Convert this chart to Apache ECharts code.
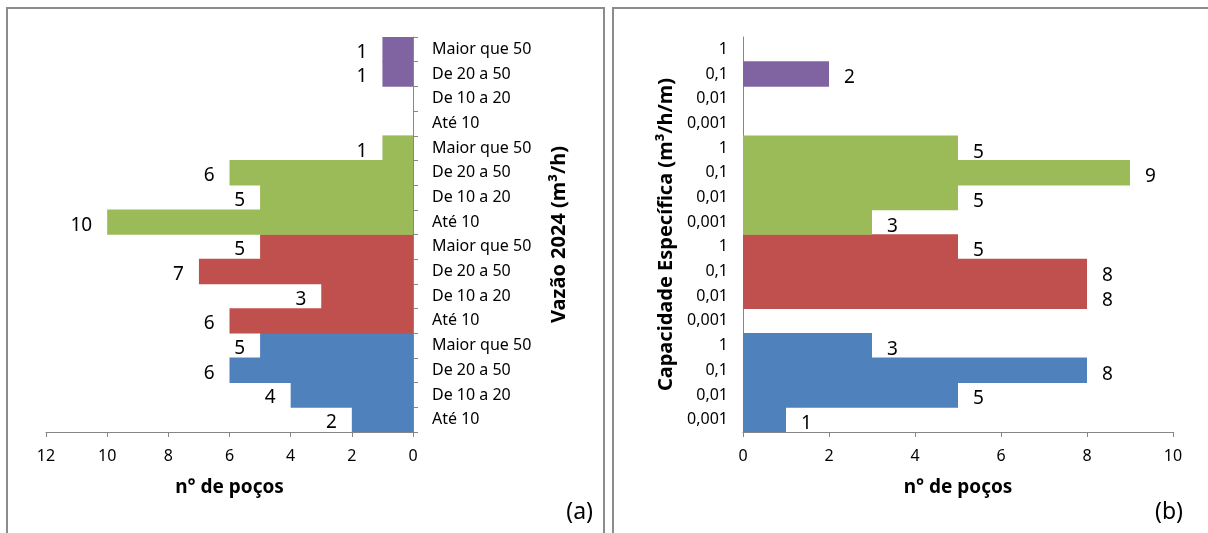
<!DOCTYPE html>
<html>
<head>
<meta charset="utf-8">
<script src="https://cdn.jsdelivr.net/npm/echarts@6/dist/echarts.min.js"></script>
<style>
html,body{margin:0;padding:0;background:#fff;}
#c{width:1208px;height:533px;}
</style>
</head>
<body>
<div id="c"></div>
<script>
// Panel (a): flow classes
const flowCategories = ['Até 10', 'De 10 a 20', 'De 20 a 50', 'Maior que 50'];
// Panel (b): specific capacity classes
const capCategories = ['0,001', '0,01', '0,1', '1'];
const groupColors = ['#4F81BD', '#C0504D', '#9BBB59', '#8064A2'];
// Values per group (bottom to top), panel (a)
const flowBlue = [2, 4, 6, 5];
const flowRed = [6, 3, 7, 5];
const flowGreen = [10, 5, 6, 1];
const flowPurple = [0, 0, 1, 1];
// Values per group (bottom to top), panel (b)
const capBlue = [1, 5, 8, 3];
const capRed = [0, 8, 8, 5];
const capGreen = [3, 5, 9, 5];
const capPurple = [0, 0, 2, 0];
const xTicksA = [0, 2, 4, 6, 8, 10, 12];
const xTicksB = [0, 2, 4, 6, 8, 10];

const flowGroups = [flowBlue, flowRed, flowGreen, flowPurple];
const capGroups = [capBlue, capRed, capGreen, capPurple];

function repeatCats(cats, n) {
  const out = [];
  for (let g = 0; g < n; g++) out.push(...cats);
  return out;
}
function spread(groups, g) {
  const out = [];
  groups.forEach((vals, i) => vals.forEach(v => out.push(i === g && v ? v : '-')));
  return out;
}
const FONT = 'Noto Sans';
const axisGray = '#868686';

const series = [];
flowGroups.forEach((vals, g) => {
  series.push({
    type: 'bar', xAxisIndex: 0, yAxisIndex: 0, stack: 'a',
    barWidth: '103%',
    itemStyle: { color: groupColors[g] },
    label: {
      show: true, position: 'left', distance: 15, offset: [0, 3],
      fontFamily: FONT, fontSize: 19, color: '#000',
      formatter: p => (p.value ? String(p.value) : '')
    },
    data: spread(flowGroups, g)
  });
});
capGroups.forEach((vals, g) => {
  series.push({
    type: 'bar', xAxisIndex: 1, yAxisIndex: 1, stack: 'b',
    barWidth: '103%',
    itemStyle: { color: groupColors[g] },
    label: {
      show: true, position: 'right', distance: 15, offset: [0, 4],
      fontFamily: FONT, fontSize: 19, color: '#000',
      formatter: p => (p.value ? String(p.value) : '')
    },
    data: spread(capGroups, g)
  });
});

const chart = echarts.init(document.getElementById('c'), null, { renderer: 'canvas' });
chart.setOption({
  animation: false,
  backgroundColor: '#fff',
  textStyle: { fontFamily: FONT },
  grid: [
    { left: 46, top: 37, width: 367, height: 395, containLabel: false },
    { left: 743, top: 37, width: 430, height: 395, containLabel: false }
  ],
  xAxis: [
    {
      gridIndex: 0, type: 'value', inverse: true,
      min: xTicksA[0], max: xTicksA[xTicksA.length - 1], interval: 2,
      splitLine: { show: false },
      axisLine: { show: true, lineStyle: { color: axisGray, width: 1 } },
      axisTick: { show: true, length: 5, lineStyle: { color: axisGray } },
      axisLabel: { fontFamily: FONT, fontSize: 16, color: '#000', margin: 16 },
      name: 'n° de poços', nameLocation: 'middle', nameGap: 46,
      nameTextStyle: { fontFamily: FONT, fontSize: 19, fontWeight: 'bold', color: '#000' }
    },
    {
      gridIndex: 1, type: 'value',
      min: xTicksB[0], max: xTicksB[xTicksB.length - 1], interval: 2,
      splitLine: { show: false },
      axisLine: { show: true, lineStyle: { color: axisGray, width: 1 } },
      axisTick: { show: true, length: 5, lineStyle: { color: axisGray } },
      axisLabel: { fontFamily: FONT, fontSize: 16, color: '#000', margin: 16 },
      name: 'n° de poços', nameLocation: 'middle', nameGap: 46,
      nameTextStyle: { fontFamily: FONT, fontSize: 19, fontWeight: 'bold', color: '#000' }
    }
  ],
  yAxis: [
    {
      gridIndex: 0, type: 'category', position: 'right',
      data: repeatCats(flowCategories, 4),
      axisLine: { show: true, lineStyle: { color: axisGray, width: 1 } },
      axisTick: { show: true, length: 5, lineStyle: { color: axisGray } },
      axisLabel: { fontFamily: FONT, fontSize: 16, color: '#000', margin: 19, align: 'left' },
      name: 'Vazão 2024 (m³/h)', nameLocation: 'middle', nameRotate: 90, nameGap: 136,
      nameTextStyle: { fontFamily: FONT, fontSize: 20, fontWeight: 'bold', color: '#000' }
    },
    {
      gridIndex: 1, type: 'category', position: 'left',
      data: repeatCats(capCategories, 4),
      axisLine: { show: true, lineStyle: { color: axisGray, width: 1 } },
      axisTick: { show: false },
      axisLabel: { fontFamily: FONT, fontSize: 16, color: '#000', margin: 15 },
      name: 'Capacidade Específica (m³/h/m)', nameLocation: 'middle', nameRotate: 90, nameGap: 67,
      nameTextStyle: { fontFamily: FONT, fontSize: 20, fontWeight: 'bold', color: '#000' }
    }
  ],
  graphic: [
    { type: 'rect', shape: { x: 7, y: 8, width: 597, height: 540 },
      style: { fill: 'none', stroke: '#8c8c8c', lineWidth: 2 }, silent: true },
    { type: 'rect', shape: { x: 613, y: 8, width: 620, height: 540 },
      style: { fill: 'none', stroke: '#8c8c8c', lineWidth: 2 }, silent: true },
    { type: 'text', right: 1208 - 593, top: 501,
      style: { text: '(a)', fontFamily: FONT, fontSize: 23, fill: '#000' } },
    { type: 'text', right: 1208 - 1183, top: 501,
      style: { text: '(b)', fontFamily: FONT, fontSize: 23, fill: '#000' } }
  ],
  series: series
});
</script>
</body>
</html>
